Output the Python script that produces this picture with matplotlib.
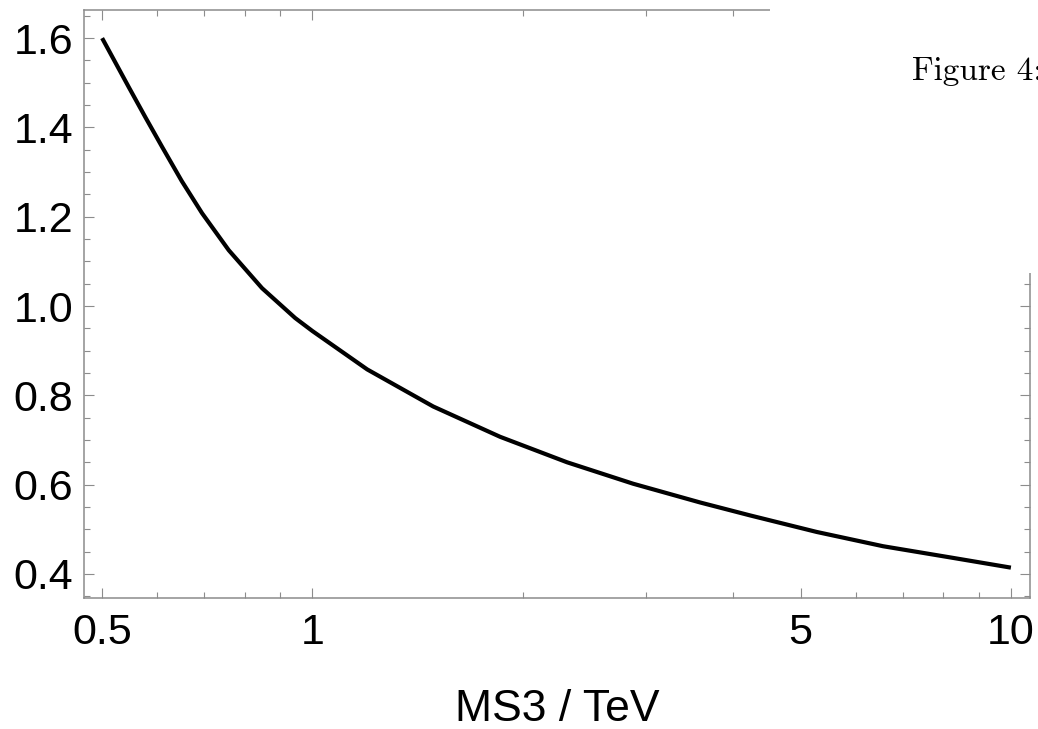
import matplotlib
matplotlib.use('Agg')
import matplotlib.pyplot as plt
from matplotlib.patches import Rectangle
from matplotlib.ticker import FixedLocator, FixedFormatter, MultipleLocator, FormatStrFormatter

# values
ms3 = [0.5, 0.546, 0.577, 0.609, 0.650, 0.695, 0.759, 0.847, 0.945, 1.0,
       1.198, 1.489, 1.857, 2.315, 2.878, 3.589, 4.232, 5.27, 6.56, 8.18, 10.0]
ratio = [1.600, 1.490, 1.422, 1.357, 1.280, 1.208, 1.125, 1.040, 0.973, 0.944,
         0.858, 0.775, 0.707, 0.650, 0.602, 0.560, 0.531, 0.494, 0.462, 0.437, 0.414]

x_major = [0.5, 1, 5, 10]
x_major_labels = ['0.5', '1', '5', '10']
x_minor = [0.6, 0.7, 0.8, 0.9, 2, 3, 4, 6, 7, 8, 9]

FRAME = '#8c8c8c'
W, H = 1038, 729

fig = plt.figure(figsize=(W / 100, H / 100), dpi=100)
ax = fig.add_axes([84 / W, 1 - 598 / H, (1030 - 84) / W, (598 - 10) / H])

ax.plot(ms3, ratio, color='black', lw=3, solid_joinstyle='round', solid_capstyle='butt')

ax.set_xscale('log')
ax.set_xlim(0.471, 10.65)
ax.set_ylim(0.346, 1.663)

ax.xaxis.set_major_locator(FixedLocator(x_major))
ax.xaxis.set_major_formatter(FixedFormatter(x_major_labels))
ax.xaxis.set_minor_locator(FixedLocator(x_minor))
ax.xaxis.set_minor_formatter(FixedFormatter([''] * len(x_minor)))
ax.yaxis.set_major_locator(MultipleLocator(0.2))
ax.yaxis.set_minor_locator(MultipleLocator(0.05))
ax.yaxis.set_major_formatter(FormatStrFormatter('%.1f'))

for s in ax.spines.values():
    s.set_color(FRAME)
    s.set_linewidth(1.1)

ax.tick_params(which='both', direction='in', top=True, right=True, color=FRAME,
               width=0.8, labelsize=31)
ax.tick_params(axis='x', pad=11)
ax.tick_params(axis='y', pad=8)
ax.tick_params(which='major', length=7)
ax.tick_params(which='minor', length=4)
for lab in ax.get_xticklabels() + ax.get_yticklabels():
    lab.set_fontfamily('Liberation Sans')

ax.set_xlabel('MS3 / TeV', fontsize=32, fontfamily='Liberation Sans', labelpad=26)

# white block over the top-right corner of the frame, with the caption text
fig.patches.append(Rectangle((770 / W, 1 - 273 / H), (W - 770) / W, 273 / H,
                             transform=fig.transFigure, facecolor='white',
                             edgecolor='none', zorder=10))
fig.text(912 / W, 1 - 80 / H, 'Figure 4:', fontsize=24, fontfamily=['cmr10', 'DejaVu Serif'],
         ha='left', va='baseline', zorder=11)

fig.savefig('out.png', dpi=100)
